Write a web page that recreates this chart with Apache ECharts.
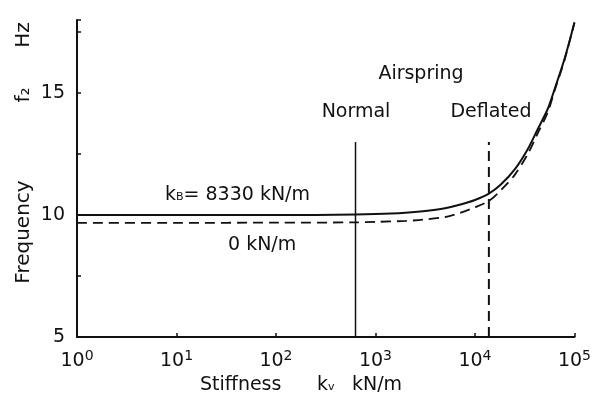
<!DOCTYPE html>
<html>
<head>
<meta charset="utf-8">
<script src="https://cdn.jsdelivr.net/npm/echarts@6/dist/echarts.min.js"></script>
<style>
  html, body { margin: 0; padding: 0; background: #fff; }
  #chart01 { width: 594px; height: 400px; }
</style>
</head>
<body>
<div id="chart01"></div>
<script>
// data
var kvPoints = [1, 10, 100, 630, 1000, 2000, 3000, 5000, 7000, 10000, 13800, 18200, 25100, 33900, 42700, 53700, 63100, 79400, 100000];
var fWithKb = [10.0, 10.0, 10.0, 10.02, 10.04, 10.1, 10.16, 10.28, 10.42, 10.62, 10.88, 11.25, 11.87, 12.7, 13.52, 14.34, 15.16, 16.4, 17.9];
var fZeroKb = [9.68, 9.68, 9.69, 9.7, 9.72, 9.76, 9.81, 9.92, 10.08, 10.32, 10.58, 11.02, 11.65, 12.5, 13.35, 14.2, 15.1, 16.35, 17.9];
var normalKv = 630;
var deflatedKv = 13800;
var markerRange = [5, 13.0];
var yTicks = [5, 10, 15];

function pairs(xs, ys) {
    return xs.map(function (x, i) { return [x, ys[i]]; });
}

var font = 'DejaVu Sans';
var ink = '#111';

var myChart01 = echarts.init(document.getElementById('chart01'));
var option = {
    backgroundColor: '#fff',
    animation: false,
    grid: { left: 77, right: 19, top: 20, bottom: 63 },
    xAxis: {
        type: 'log',
        logBase: 10,
        min: 1,
        max: 100000,
        axisLine: { lineStyle: { color: ink, width: 2 } },
        axisTick: { inside: true, length: 4, lineStyle: { color: ink, width: 1.5 } },
        minorTick: { show: false },
        splitLine: { show: false },
        axisLabel: {
            margin: 12,
            formatter: function (v) {
                return '{b|10}{s|' + Math.round(Math.log10(v)) + '}';
            },
            rich: {
                b: { fontFamily: font, fontSize: 19, color: ink },
                s: { fontFamily: font, fontSize: 14, color: ink, padding: [0, 0, 10, 0] }
            }
        }
    },
    yAxis: {
        type: 'value',
        min: 5,
        max: 18,
        interval: 2.5,
        axisLine: { show: true, lineStyle: { color: ink, width: 2 } },
        axisTick: { show: true, inside: true, length: 4, lineStyle: { color: ink, width: 1.5 } },
        splitLine: { show: false },
        axisLabel: {
            margin: 12,
            fontFamily: font,
            fontSize: 19,
            color: ink,
            formatter: function (v) {
                return yTicks.indexOf(v) >= 0 ? String(v) : '';
            }
        }
    },
    series: [
        {
            name: 'kB = 8330 kN/m',
            type: 'line',
            smooth: 0.3,
            showSymbol: false,
            lineStyle: { color: ink, width: 2 },
            data: pairs(kvPoints, fWithKb)
        },
        {
            name: '0 kN/m',
            type: 'line',
            smooth: 0.3,
            showSymbol: false,
            lineStyle: { color: ink, width: 1.8, type: [10, 6] },
            data: pairs(kvPoints, fZeroKb)
        },
        {
            name: 'Normal',
            type: 'line',
            showSymbol: false,
            lineStyle: { color: ink, width: 1.5 },
            data: [[normalKv, markerRange[0]], [normalKv, markerRange[1]]]
        },
        {
            name: 'Deflated',
            type: 'line',
            showSymbol: false,
            lineStyle: { color: ink, width: 2, type: [10, 6] },
            data: [[deflatedKv, markerRange[0]], [deflatedKv, markerRange[1]]]
        }
    ],
    graphic: [
        // y axis name
        { type: 'text', x: 24, y: 232, rotation: Math.PI / 2,
          style: { text: 'Frequency', font: '20px ' + font, fill: ink, align: 'center', verticalAlign: 'middle' } },
        { type: 'text', x: 24, y: 95, rotation: Math.PI / 2,
          style: { text: 'f₂', font: '20px ' + font, fill: ink, align: 'center', verticalAlign: 'middle' } },
        { type: 'text', x: 24, y: 35, rotation: Math.PI / 2,
          style: { text: 'Hz', font: '20px ' + font, fill: ink, align: 'center', verticalAlign: 'middle' } },
        // x axis name
        { type: 'text', x: 200, y: 385,
          style: { text: 'Stiffness', font: '19px ' + font, fill: ink, align: 'left', verticalAlign: 'middle' } },
        { type: 'text', x: 317, y: 385,
          style: { text: '{k|k}{s|v}', fill: ink, align: 'left', verticalAlign: 'middle',
                   rich: { k: { fontFamily: font, fontSize: 19, color: ink },
                           s: { fontFamily: font, fontSize: 11, color: ink, padding: [4, 0, 0, 0] } } } },
        { type: 'text', x: 352, y: 385,
          style: { text: 'kN/m', font: '19px ' + font, fill: ink, align: 'left', verticalAlign: 'middle' } },
        // annotations
        { type: 'text', x: 421, y: 74,
          style: { text: 'Airspring', font: '19px ' + font, fill: ink, align: 'center', verticalAlign: 'middle' } },
        { type: 'text', x: 356, y: 112,
          style: { text: 'Normal', font: '19px ' + font, fill: ink, align: 'center', verticalAlign: 'middle' } },
        { type: 'text', x: 491, y: 112,
          style: { text: 'Deflated', font: '19px ' + font, fill: ink, align: 'center', verticalAlign: 'middle' } },
        { type: 'text', x: 165, y: 195,
          style: { text: '{k|k}{s|B}{t|= 8330 kN/m}', fill: ink, align: 'left', verticalAlign: 'middle',
                   rich: { k: { fontFamily: font, fontSize: 19, color: ink },
                           s: { fontFamily: font, fontSize: 11, color: ink, padding: [4, 0, 0, 0] },
                           t: { fontFamily: font, fontSize: 19, color: ink } } } },
        { type: 'text', x: 228, y: 245,
          style: { text: '0 kN/m', font: '19px ' + font, fill: ink, align: 'left', verticalAlign: 'middle' } }
    ]
};
myChart01.setOption(option);
</script>
</body>
</html>
